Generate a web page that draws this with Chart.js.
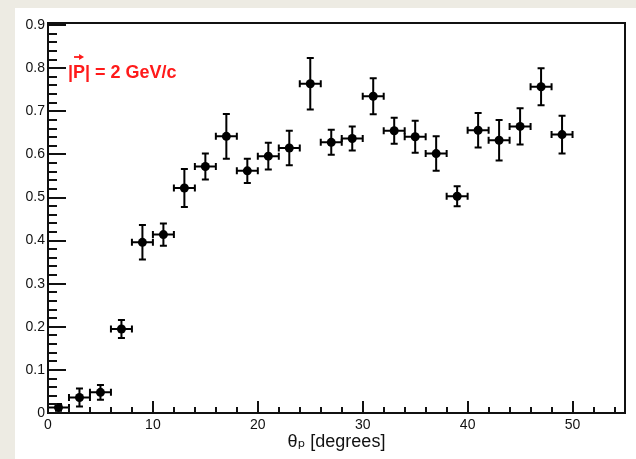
<!DOCTYPE html>
<html>
<head>
<meta charset="utf-8">
<script src="https://cdn.jsdelivr.net/npm/chart.js@4/dist/chart.umd.min.js"></script>
<style>
  html, body { margin: 0; padding: 0; background: #edebe3; }
  canvas { display: block; }
</style>
</head>
<body>
<canvas id="ratioChart" width="636" height="459"></canvas>
<script>
// Bin centres (theta_p, degrees) and half widths
const thetaBins = [1, 3, 5, 7, 9, 11, 13, 15, 17, 19, 21, 23, 25, 27, 29, 31, 33, 35, 37, 39, 41, 43, 45, 47, 49];
const thetaErr  = [1, 1, 1, 1, 1, 1, 1, 1, 1, 1, 1, 1, 1, 1, 1, 1, 1, 1, 1, 1, 1, 1, 1, 1, 1];
// Measured values and their vertical errors
const ratioValues = [0.013, 0.036, 0.048, 0.195, 0.396, 0.414, 0.522, 0.572, 0.642, 0.562, 0.596, 0.615, 0.764,
                     0.628, 0.637, 0.735, 0.655, 0.641, 0.602, 0.503, 0.656, 0.633, 0.665, 0.757, 0.646];
const ratioErr    = [0.008, 0.021, 0.017, 0.021, 0.040, 0.026, 0.044, 0.030, 0.052, 0.028, 0.031, 0.040, 0.060,
                     0.029, 0.028, 0.042, 0.030, 0.037, 0.040, 0.023, 0.040, 0.047, 0.042, 0.043, 0.044];

const xTitle = 'θₚ [degrees]';
const momentumLabel = '= 2 GeV/c';

const fontFamily = '"Liberation Sans", Arial, "DejaVu Sans", sans-serif';
const textColor = '#111';

// Build the points for the scatter dataset
const points = thetaBins.map((x, i) => ({ x: x, y: ratioValues[i], ex: thetaErr[i], ey: ratioErr[i] }));

// White pad behind the frame
const padPlugin = {
    id: 'pad',
    beforeDraw(chart) {
        const ctx = chart.ctx;
        ctx.save();
        ctx.fillStyle = '#ffffff';
        ctx.fillRect(15, 8, chart.width - 15, chart.height - 8);
        ctx.restore();
    }
};

// Error bars with small end caps, drawn through the scales
const errorBarPlugin = {
    id: 'errorBars',
    beforeDatasetsDraw(chart) {
        const ctx = chart.ctx;
        const xs = chart.scales.x, ys = chart.scales.y;
        const cap = 3.5;
        ctx.save();
        ctx.strokeStyle = '#000';
        ctx.lineWidth = 2;
        chart.data.datasets[0].data.forEach(p => {
            const px = xs.getPixelForValue(p.x);
            const py = ys.getPixelForValue(p.y);
            const x0 = xs.getPixelForValue(p.x - p.ex), x1 = xs.getPixelForValue(p.x + p.ex);
            const y0 = ys.getPixelForValue(p.y - p.ey), y1 = ys.getPixelForValue(p.y + p.ey);
            ctx.beginPath();
            ctx.moveTo(x0, py); ctx.lineTo(x1, py);
            ctx.moveTo(px, y0); ctx.lineTo(px, y1);
            // caps
            ctx.moveTo(x0, py - cap); ctx.lineTo(x0, py + cap);
            ctx.moveTo(x1, py - cap); ctx.lineTo(x1, py + cap);
            ctx.moveTo(px - cap, y0); ctx.lineTo(px + cap, y0);
            ctx.moveTo(px - cap, y1); ctx.lineTo(px + cap, y1);
            ctx.stroke();
        });
        ctx.restore();
    }
};

// ROOT-like frame with ticks on the inside, plus the red label
const framePlugin = {
    id: 'frame',
    afterDraw(chart) {
        const ctx = chart.ctx;
        const {left, top, right, bottom} = chart.chartArea;
        const xs = chart.scales.x, ys = chart.scales.y;
        ctx.save();
        ctx.strokeStyle = '#111';
        ctx.lineWidth = 2;
        ctx.beginPath();
        // y ticks: major 0.1, minor 0.02
        for (let i = 0; i <= 45; i++) {
            const y = Math.round(ys.getPixelForValue(i * 0.02));
            const len = (i % 5 === 0) ? 18 : 9;
            ctx.moveTo(left, y); ctx.lineTo(left + len, y);
        }
        // x ticks: major 10, minor 2
        for (let v = 0; v <= 54; v += 2) {
            const x = Math.round(xs.getPixelForValue(v));
            const len = (v % 10 === 0) ? 12 : 6;
            ctx.moveTo(x, bottom); ctx.lineTo(x, bottom - len);
        }
        ctx.stroke();
        ctx.strokeRect(left, top, right - left, bottom - top);

        // |P| = 2 GeV/c
        ctx.fillStyle = '#ff1a1a';
        ctx.strokeStyle = '#ff1a1a';
        ctx.font = 'bold 18px ' + fontFamily;
        ctx.textBaseline = 'alphabetic';
        const tx = 68, ty = 78;
        const bar = ctx.measureText('|').width;
        const pw = ctx.measureText('P').width;
        ctx.fillText('|', tx, ty);
        ctx.fillText('P', tx + bar, ty);
        ctx.fillText('|', tx + bar + pw, ty);
        // arrow over P
        const ax0 = tx + bar + 1, ax1 = tx + bar + pw - 1;
        const ay = ty - 21;
        ctx.lineWidth = 1.8;
        ctx.beginPath();
        ctx.moveTo(ax0, ay); ctx.lineTo(ax1 - 2, ay);
        ctx.stroke();
        ctx.beginPath();
        ctx.moveTo(ax1, ay); ctx.lineTo(ax1 - 5, ay - 3); ctx.lineTo(ax1 - 5, ay + 3);
        ctx.closePath();
        ctx.fill();
        ctx.fillText(' ' + momentumLabel, tx + 2 * bar + pw, ty);
        ctx.restore();
    }
};

const createChart = () => {
    const ctx = document.getElementById('ratioChart').getContext('2d');
    return new Chart(ctx, {
        type: 'scatter',
        data: {
            datasets: [{
                data: points,
                backgroundColor: '#000',
                borderColor: '#000',
                pointRadius: 4.5,
                pointHoverRadius: 4.5,
                borderWidth: 0
            }]
        },
        options: {
            responsive: false,
            animation: false,
            devicePixelRatio: 1,
            layout: { padding: { left: 15, top: 23, right: 11, bottom: 0 } },
            plugins: {
                legend: { display: false },
                tooltip: { enabled: false }
            },
            scales: {
                x: {
                    type: 'linear',
                    min: 0,
                    max: 55,
                    grid: { display: false, drawTicks: false },
                    border: { display: false },
                    ticks: {
                        stepSize: 10,
                        includeBounds: false,
                        padding: 4,
                        maxRotation: 0,
                        color: textColor,
                        font: { family: fontFamily, size: 14 }
                    },
                    title: {
                        display: true,
                        text: xTitle,
                        color: textColor,
                        font: { family: fontFamily, size: 18 },
                        padding: { top: 0, bottom: 6 }
                    },
                    afterFit: (scale) => { scale.height = 46; }
                },
                y: {
                    type: 'linear',
                    min: 0,
                    max: 0.905,
                    grid: { display: false, drawTicks: false },
                    border: { display: false },
                    ticks: {
                        stepSize: 0.1,
                        includeBounds: false,
                        padding: 3,
                        color: textColor,
                        font: { family: fontFamily, size: 14 },
                        callback: (v) => String(Math.round(v * 10) / 10)
                    },
                    afterFit: (scale) => { scale.width = 33; }
                }
            }
        },
        plugins: [padPlugin, errorBarPlugin, framePlugin]
    });
};

createChart();
</script>
</body>
</html>
